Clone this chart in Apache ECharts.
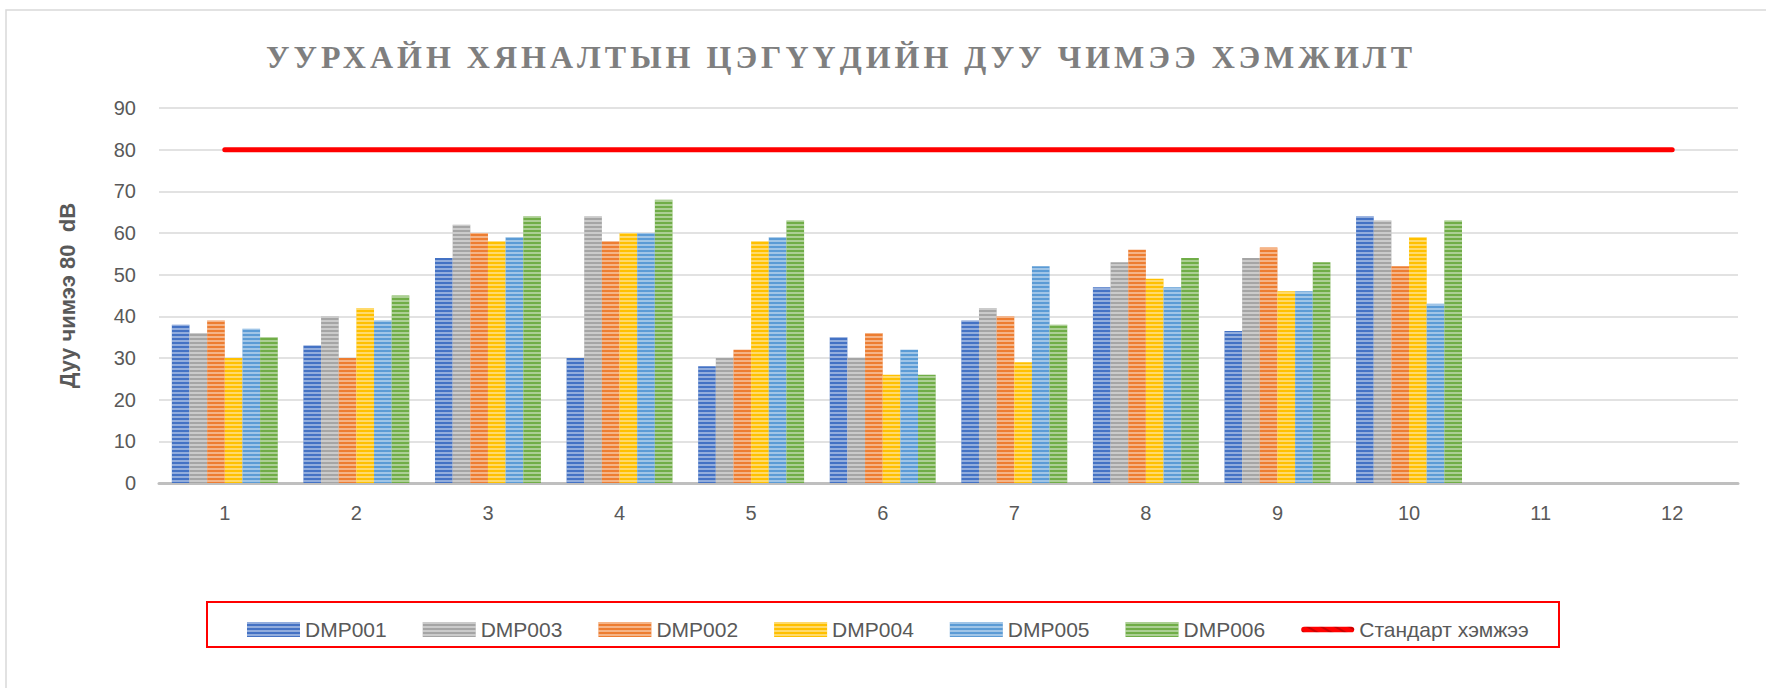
<!DOCTYPE html>
<html>
<head>
<meta charset="utf-8">
<script src="https://cdn.jsdelivr.net/npm/echarts@6/dist/echarts.min.js"></script>
<style>
  html, body { margin: 0; padding: 0; background: #fff; }
  #chart { width: 1766px; height: 688px; }
  /* wide tracking on the serif title */
  #chart text[style*="Serif"] { letter-spacing: 4px; }
</style>
</head>
<body>
<div id="chart"></div>
<script>
// categories (sampling rounds)
const categories = ['1', '2', '3', '4', '5', '6', '7', '8', '9', '10', '11', '12']

// measured noise, dB
const dmp001 = [38, 33, 54, 30, 28, 35, 39, 47, 36.5, 64, null, null]
const dmp003 = [36, 40, 62, 64, 30, 30, 42, 53, 54, 63, null, null]
const dmp002 = [39, 30, 60, 58, 32, 36, 40, 56, 56.5, 52, null, null]
const dmp004 = [30, 42, 58, 60, 58, 26, 29, 49, 46, 59, null, null]
const dmp005 = [37, 39, 59, 60, 59, 32, 52, 47, 46, 43, null, null]
const dmp006 = [35, 45, 64, 68, 63, 26, 38, 54, 53, 63, null, null]

// стандарт
const standard = [80, 80, 80, 80, 80, 80, 80, 80, 80, 80, 80, 80]

const seriesNames = ['DMP001', 'DMP003', 'DMP002', 'DMP004', 'DMP005', 'DMP006']
const seriesData = [dmp001, dmp003, dmp002, dmp004, dmp005, dmp006]
const seriesColors = ['#4472C4', '#A5A5A5', '#ED7D31', '#FFC000', '#5B9BD5', '#70AD47']
const lineName = 'Стандарт хэмжээ'
const titleText = 'УУРХАЙН ХЯНАЛТЫН ЦЭГҮҮДИЙН ДУУ ЧИМЭЭ ХЭМЖИЛТ'

const chart = echarts.init(document.getElementById('chart'), null, { renderer: 'svg' })

// horizontal stripes like the Excel pattern fill
const stripes = {
  symbol: 'rect',
  symbolSize: 1,
  dashArrayX: [[8, 0]],
  dashArrayY: [2, 2],
  rotation: 0,
  color: 'rgba(255, 255, 255, 0.42)'
}

const barSeries = seriesNames.map((name, i) => ({
  name,
  type: 'bar',
  data: seriesData[i],
  barGap: 0,
  barCategoryGap: '19.5%',
  itemStyle: { color: seriesColors[i], decal: stripes },
  emphasis: { disabled: true }
}))

// rounded thick line for the legend entry of the standard
const lineIcon = 'path://M3,0 L53,0 A3,3 0 0 1 53,6 L3,6 A3,3 0 0 1 3,0 Z'

const option = {
  animation: false,
  backgroundColor: '#fff',
  aria: { enabled: true, decal: { show: true } },
  graphic: [
    {
      type: 'rect',
      shape: { x: 6, y: 10, width: 1800, height: 700 },
      style: { fill: 'none', stroke: '#d9d9d9', lineWidth: 1.5 },
      silent: true
    },
    {
      type: 'rect',
      shape: { x: 207, y: 602, width: 1352, height: 45 },
      style: { fill: 'none', stroke: '#ff0000', lineWidth: 2 },
      silent: true
    },
    {
      type: 'text',
      style: {
        text: titleText,
        x: 841,
        y: 57,
        textAlign: 'center',
        textVerticalAlign: 'middle',
        font: 'bold 32px "Liberation Serif", serif',
        fill: '#7f7f7f'
      },
      silent: true
    }
  ],
  legend: {
    left: 242,
    top: 614,
    itemWidth: 53,
    itemHeight: 15,
    itemGap: 36,
    selectedMode: false,
    textStyle: { fontFamily: 'Liberation Sans', fontSize: 21, color: '#595959' },
    data: seriesNames.map(n => ({ name: n, icon: 'rect' })).concat([{ name: lineName, icon: lineIcon }])
  },
  grid: {
    left: 159,
    right: 28,
    top: 108,
    bottom: 205
  },
  xAxis: {
    type: 'category',
    data: categories,
    axisLine: { lineStyle: { color: '#bfbfbf', width: 3 } },
    axisTick: { show: false },
    axisLabel: { color: '#595959', fontSize: 20, fontFamily: 'Liberation Sans', margin: 20 }
  },
  yAxis: {
    type: 'value',
    min: 0,
    max: 90,
    interval: 10,
    name: 'Дуу чимээ 80  dB',
    nameLocation: 'middle',
    nameRotate: 90,
    nameGap: 81,
    nameTextStyle: { color: '#595959', fontSize: 22, fontWeight: 'bold', fontFamily: 'Liberation Sans' },
    axisLine: { show: false },
    axisTick: { show: false },
    axisLabel: { color: '#595959', fontSize: 20, fontFamily: 'Liberation Sans', margin: 23 },
    splitLine: { lineStyle: { color: '#d9d9d9', width: 1.5 } }
  },
  series: barSeries.concat([
    {
      name: lineName,
      type: 'line',
      data: standard,
      symbol: 'none',
      z: 5,
      lineStyle: { color: '#ff0000', width: 5, cap: 'round' },
      itemStyle: { color: '#ff0000' },
      emphasis: { disabled: true }
    }
  ])
}

chart.setOption(option)
</script>
</body>
</html>
